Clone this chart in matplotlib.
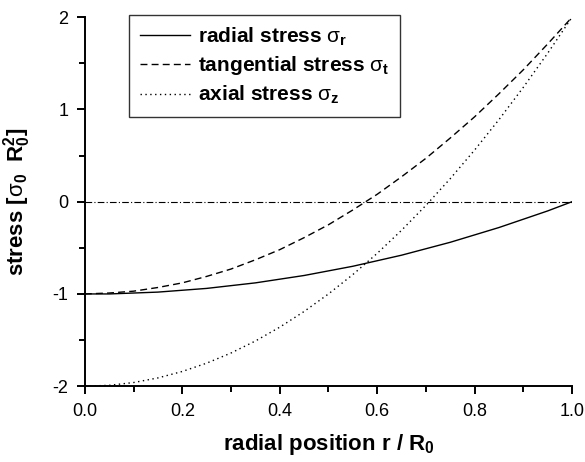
import matplotlib
matplotlib.use('Agg')
import matplotlib.pyplot as plt
from matplotlib.ticker import MultipleLocator

plt.rcParams['font.family'] = 'Liberation Sans'
plt.rcParams['mathtext.fontset'] = 'custom'
plt.rcParams['mathtext.rm'] = 'Liberation Sans'
plt.rcParams['mathtext.bf'] = 'Liberation Sans:bold'
plt.rcParams['mathtext.it'] = 'Liberation Sans:italic'

## radial positions r / R0 ##
r = [0.0, 0.05, 0.1, 0.15, 0.2, 0.25, 0.3, 0.35, 0.4, 0.45, 0.5,
     0.55, 0.6, 0.65, 0.7, 0.75, 0.8, 0.85, 0.9, 0.95, 1.0]

## stresses [sigma0 R0^2] ##
radial = [-1.0, -1.0, -0.99, -0.98, -0.96, -0.94, -0.91, -0.88, -0.84, -0.80, -0.75,
          -0.70, -0.64, -0.58, -0.51, -0.44, -0.36, -0.28, -0.19, -0.10, 0.0]
tangential = [-1.0, -0.99, -0.97, -0.93, -0.88, -0.81, -0.73, -0.63, -0.52, -0.39, -0.25,
              -0.09, 0.08, 0.27, 0.47, 0.69, 0.92, 1.17, 1.43, 1.71, 2.0]
axial = [-2.0, -1.99, -1.96, -1.91, -1.84, -1.75, -1.64, -1.51, -1.36, -1.19, -1.0,
         -0.79, -0.56, -0.31, -0.04, 0.25, 0.56, 0.89, 1.24, 1.61, 2.0]

fig = plt.figure(figsize=(5.85, 4.62), dpi=100)
ax = fig.add_axes([0.145, 0.164, 0.833, 0.799])

ax.axhline(0, color='black', lw=0.8, ls=(0, (6, 2, 1, 2)))
ax.plot(r, radial, 'k-', lw=1.0, label=r'radial stress $\mathrm{\sigma}_\mathbf{r}$')
ax.plot(r, tangential, 'k', ls=(0, (5, 3)), lw=1.0, label=r'tangential stress $\mathrm{\sigma}_\mathbf{t}$')
ax.plot(r, axial, 'k', ls=(0, (1, 2.5)), lw=1.0, label=r'axial stress $\mathrm{\sigma}_\mathbf{z}$')

ax.set_xlim(0, 1)
ax.set_ylim(-2, 2)
ax.xaxis.set_major_locator(MultipleLocator(0.2))
ax.xaxis.set_minor_locator(MultipleLocator(0.1))
ax.yaxis.set_major_locator(MultipleLocator(1))
ax.yaxis.set_minor_locator(MultipleLocator(0.5))
ax.xaxis.set_major_formatter(plt.FuncFormatter(lambda v, p: f'{v:.1f}'))
ax.yaxis.set_major_formatter(plt.FuncFormatter(lambda v, p: f'{v:.0f}'))

for s in ['top', 'right']:
    ax.spines[s].set_visible(False)
for s in ['left', 'bottom']:
    ax.spines[s].set_linewidth(1.4)
ax.tick_params(which='major', direction='out', length=6, width=1.4, labelsize=13, pad=6)
ax.tick_params(which='minor', direction='out', length=4, width=1.4)

ax.set_xlabel(r'radial position r / R$_\mathbf{0}$', fontsize=16, fontweight='bold', labelpad=9)
ax.set_ylabel(r'stress [$\mathrm{\sigma}_\mathbf{0}\ $ R$_\mathbf{0}^\mathbf{2}$]', fontsize=16,
              fontweight='bold', labelpad=14)

leg = ax.legend(loc='upper left', bbox_to_anchor=(0.091, 1.006), prop={'size': 15, 'weight': 'bold'},
                frameon=True, fancybox=False, edgecolor='black', handlelength=2.4,
                borderpad=0.5, labelspacing=0.32, handletextpad=0.4, borderaxespad=0)
leg.get_frame().set_linewidth(1.0)

fig.savefig('out.png', dpi=100)
